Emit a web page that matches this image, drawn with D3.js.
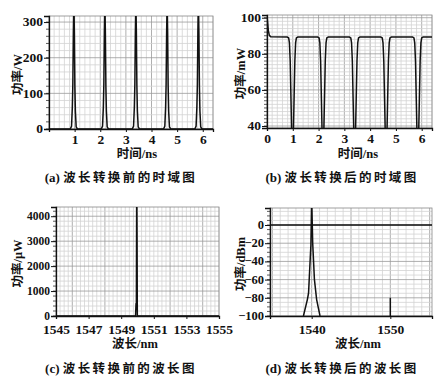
<!DOCTYPE html>
<html>
<head>
<meta charset="utf-8">
<script src="https://cdn.jsdelivr.net/npm/d3@7"></script>
<style>
  body { margin: 0; background: #fff; }
  svg { display: block; }
  .num { font-family: "Liberation Serif", "DejaVu Serif", serif; font-size: 13.5px; font-weight: bold; fill: #111; }
  .cjk { font-family: "Liberation Serif", "Noto Sans CJK SC", serif; font-size: 12.5px; font-weight: 700; fill: #111; }
  .lab { font-family: "Liberation Serif", serif; font-weight: bold; }
</style>
</head>
<body>
<div id="chart"></div>
<script>
// ---- data ----
// (a) pulse train before conversion, W
var pulseCentersA = [0.97, 2.18, 3.39, 4.61, 5.83];
var pulseOffsetsA = [-0.14, -0.09, -0.06, -0.04, -0.02, 0, 0.02, 0.04, 0.06, 0.09, 0.14];
var pulseValuesA  = [0, 8, 60, 125, 270, 360, 270, 120, 50, 6, 0];

// (b) converted signal, mW
var dipCentersB = [0.99, 2.17, 3.40, 4.62, 5.85];
var dipOffsetsB = [-0.2, -0.15, -0.12, -0.09, -0.06, -0.03, 0, 0.03, 0.06, 0.09, 0.12, 0.15, 0.2];
var dipValuesB  = [89.3, 88.8, 86, 76, 55, 34, 28, 34, 55, 76, 86, 88.8, 89.3];
var startB = [[0, 101.5], [0.02, 98], [0.05, 93], [0.09, 90.2], [0.15, 89.4]];
var endB = [[6.4, 89.3]];

// (c) spectrum before conversion
var spectrumC = [[1545, 0], [1549.88, 0], [1549.91, 500], [1549.93, 300], [1549.95, 5000], [1549.97, 3000], [1549.99, 0], [1555, 0]];

// (d) spectrum after conversion, dBm
var spectrumD = [[1538.95, -100], [1539.45, -82], [1539.6, -75], [1539.9, -22], [1540.0, 30], [1540.13, -20], [1540.35, -60], [1540.63, -82], [1541.06, -100]];
var spikeD = [[1550, -100], [1550, -80]];
var levelD = [[1534.7, 0], [1555.3, 0]];

var ticksA = [1, 2, 3, 4, 5, 6];
var ticksB = [0, 1, 2, 3, 4, 5, 6];
var yTicksA = [0, 100, 200, 300];
var yTicksB = [40, 60, 80, 100];
var ticksC = [1545, 1547, 1549, 1551, 1553, 1555];
var yTicksC = [0, 1000, 2000, 3000, 4000];
var ticksD = [1540, 1550];
var yTicksD = [0, -20, -40, -60, -80, -100];

// build pulse/dip series from the read shapes
function train(centers, offsets, values, head, tail) {
  var pts = head ? head.slice() : [];
  centers.forEach(function(c) {
    offsets.forEach(function(o, i) { pts.push([c + o, values[i]]); });
  });
  if (tail) pts = pts.concat(tail);
  return pts;
}
var seriesA = train(pulseCentersA, pulseOffsetsA, pulseValuesA, [[0, 0]], [[6.4, 0]]);
var seriesB = train(dipCentersB, dipOffsetsB, dipValuesB, startB, endB);

var svg = d3.select('#chart').append('svg').attr('width', 446).attr('height', 384);

var panels = [
  { id: 'a', box: [49, 16, 213, 129], xd: [0, 6.4], yd: [0, 317], xt: ticksA, yt: yTicksA,
    xMinor: 0.2, xMajor: 1, yMinor: 20, yMajor: 100, lines: [seriesA], yfs: 13.5, pad: 2,
    xlab: '时间/ns', ylab: '功率/W', tag: '(a)', cap: '波长转换前的时域图',
    xlabPos: [137, 158], ylabX: 17, capPos: [121, 182] },
  { id: 'b', box: [267, 15, 432, 128], xd: [0, 6.4], yd: [38.9, 101.5], xt: ticksB, yt: yTicksB,
    xMinor: 0.2, xMajor: 1, yMinor: 2, yMajor: 20, lines: [seriesB], yfs: 13.5, pad: 2,
    xlab: '时间/ns', ylab: '功率/mW', tag: '(b)', cap: '波长转换后的时域图',
    xlabPos: [358, 158], ylabX: 240, capPos: [342, 182] },
  { id: 'c', box: [56, 207, 219, 316], xd: [1545, 1555], yd: [0, 4370], xt: ticksC, yt: yTicksC,
    xMinor: 0.25, xMajor: 2, yMinor: 200, yMajor: 1000, lines: [spectrumC], yfs: 11.5, pad: 5,
    xlab: '波长/nm', ylab: '功率/μW', tag: '(c)', cap: '波长转换前的波长图',
    xlabPos: [135, 348], ylabX: 17, capPos: [121, 373] },
  { id: 'd', box: [270, 208, 432, 316], xd: [1534.7, 1555.3], yd: [-100, 18.7], xt: ticksD, yt: yTicksD,
    xMinor: 1, xMajor: 5, yMinor: 5, yMajor: 20, lines: [spectrumD, spikeD, levelD], yfs: 12.5, pad: 5,
    xlab: '波长/nm', ylab: '功率/dBm', tag: '(d)', cap: '波长转换后的波长图',
    xlabPos: [358, 348], ylabX: 240, capPos: [342, 373] }
];

panels.forEach(function(p) {
  var x0 = p.box[0], y0 = p.box[1], x1 = p.box[2], y1 = p.box[3];
  var x = d3.scaleLinear().domain(p.xd).range([x0, x1]);
  var y = d3.scaleLinear().domain(p.yd).range([y1, y0]);
  var g = svg.append('g');

  // grid
  function steps(d, s) {
    var out = [], a = Math.ceil(d[0] / s - 1e-6), b = Math.floor(d[1] / s + 1e-6);
    for (var i = a; i <= b; i++) out.push(+(i * s).toFixed(4));
    return out;
  }
  var isMajor = function(v, m) { return Math.abs(v / m - Math.round(v / m)) < 1e-6; };
  var xg = steps(p.xd, p.xMinor), yg = steps(p.yd, p.yMinor);
  g.selectAll('.vx').data(xg).enter().append('line')
    .attr('x1', function(d) { return x(d); }).attr('x2', function(d) { return x(d); })
    .attr('y1', y0).attr('y2', y1)
    .attr('stroke', function(d) { return isMajor(d, p.xMajor) ? '#9a9a9a' : '#d3d3d3'; })
    .attr('stroke-width', 0.8);
  g.selectAll('.hy').data(yg).enter().append('line')
    .attr('y1', function(d) { return y(d); }).attr('y2', function(d) { return y(d); })
    .attr('x1', x0).attr('x2', x1)
    .attr('stroke', function(d) { return isMajor(d, p.yMajor) ? '#9a9a9a' : '#d3d3d3'; })
    .attr('stroke-width', 0.8);

  // frame
  g.append('rect').attr('x', x0).attr('y', y0).attr('width', x1 - x0).attr('height', y1 - y0)
    .attr('fill', 'none').attr('stroke', '#888').attr('stroke-width', 0.8);

  // minor ticks on left axis
  g.selectAll('.mt').data(yg).enter().append('line')
    .attr('x1', x0 - 3).attr('x2', x0)
    .attr('y1', function(d) { return y(d); }).attr('y2', function(d) { return y(d); })
    .attr('stroke', '#333').attr('stroke-width', 0.8);

  // axes
  var ya = g.append('g').attr('transform', 'translate(' + x0 + ',0)')
    .call(d3.axisLeft(y).tickValues(p.yt).tickSize(5).tickPadding(1).tickFormat(d3.format('d')));
  var xa = g.append('g').attr('transform', 'translate(0,' + y1 + ')')
    .call(d3.axisBottom(x).tickValues(p.xt).tickSize(3).tickPadding(p.pad).tickFormat(d3.format('d')));
  [ya, xa].forEach(function(a) {
    a.select('.domain').attr('stroke', '#111').attr('stroke-width', 1.3);
    a.selectAll('.tick line').attr('stroke', '#111');
    a.selectAll('text').attr('class', 'num').attr('fill', '#111');
  });
  ya.selectAll('text').style('font-size', p.yfs + 'px').attr('dy', '0.28em');

  // data lines
  var clipId = 'clip-' + p.id;
  svg.append('clipPath').attr('id', clipId).append('rect')
    .attr('x', x0).attr('y', y0).attr('width', x1 - x0).attr('height', y1 - y0);
  var line = d3.line().x(function(d) { return x(d[0]); }).y(function(d) { return y(d[1]); });
  p.lines.forEach(function(s) {
    g.append('path').datum(s).attr('d', line).attr('clip-path', 'url(#' + clipId + ')')
      .attr('fill', 'none').attr('stroke', '#111').attr('stroke-width', 1.5)
      .attr('stroke-linejoin', 'round');
  });

  // titles
  g.append('text').attr('class', 'cjk').attr('x', p.xlabPos[0]).attr('y', p.xlabPos[1])
    .attr('text-anchor', 'middle').text(p.xlab);
  g.append('text').attr('class', 'cjk')
    .attr('transform', 'translate(' + (p.ylabX + 5) + ',' + ((y0 + y1) / 2 + 2) + ') rotate(-90)')
    .attr('text-anchor', 'middle').text(p.ylab);
  var cap = g.append('text').attr('class', 'cjk').attr('x', p.capPos[0]).attr('y', p.capPos[1])
    .attr('text-anchor', 'middle');
  cap.append('tspan').attr('class', 'lab').style('font-size', '13px').text(p.tag + ' ');
  cap.append('tspan').style('letter-spacing', '2.4px').text(p.cap);
});
</script>
</body>
</html>
